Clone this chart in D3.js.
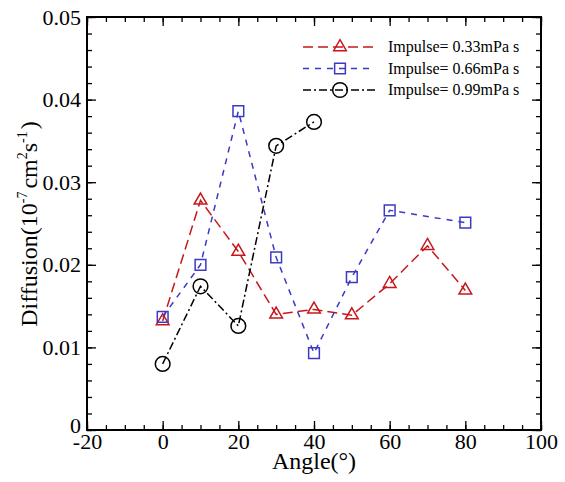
<!DOCTYPE html>
<html>
<head>
<meta charset="utf-8">
<script src="https://cdn.jsdelivr.net/npm/d3@7"></script>
<style>
	body { margin: 0; background: #fff; }
</style>
</head>
<body>
<svg id="chart"></svg>
<script>
// angles (deg) and diffusion values
let anglesA = [0, 10, 20, 30, 40, 50, 60, 70, 80];
let impulse033 = [0.0132, 0.0278, 0.0216, 0.0140, 0.0146, 0.0139, 0.0177, 0.0223, 0.0169];

let anglesB = [0, 10, 20, 30, 40, 50, 60, 80];
let impulse066 = [0.0137, 0.0200, 0.0386, 0.0209, 0.0093, 0.0185, 0.0266, 0.0251];

let anglesC = [0, 10, 20, 30, 40];
let impulse099 = [0.0080, 0.0174, 0.0126, 0.0344, 0.0373];

let seriesNames = ['Impulse= 0.33mPa s', 'Impulse= 0.66mPa s', 'Impulse= 0.99mPa s'];

let xTicks = [-20, 0, 20, 40, 60, 80, 100];
let yTicks = [0, 0.01, 0.02, 0.03, 0.04, 0.05];

const FONT = 'Liberation Serif';

function makeChart() {
	let w = 565;
	let h = 482;
	let margin = {left: 87, top: 17, right: 24, bottom: 52};

	let chart = d3.select('#chart')
		.attr('width', w)
		.attr('height', h);

	let x = d3.scaleLinear().domain([-20, 100]).range([margin.left, w - margin.right]);
	let y = d3.scaleLinear().domain([0, 0.05]).range([h - margin.bottom, margin.top]);

	let xMinor = d3.range(-20, 100.1, 5);
	let yMinor = d3.range(0, 0.0501, 0.002);

	// minor ticks on all four sides
	chart.append('g').attr('transform', `translate(0,${y(0)})`)
		.call(d3.axisBottom(x).tickValues(xMinor).tickSize(-5).tickFormat(''));
	chart.append('g').attr('transform', `translate(0,${y(0.05)})`)
		.call(d3.axisTop(x).tickValues(xMinor).tickSize(-5).tickFormat(''));
	chart.append('g').attr('transform', `translate(${x(-20)},0)`)
		.call(d3.axisLeft(y).tickValues(yMinor).tickSize(-5).tickFormat(''));
	chart.append('g').attr('transform', `translate(${x(100)},0)`)
		.call(d3.axisRight(y).tickValues(yMinor).tickSize(-5).tickFormat(''));

	// major ticks + labels
	chart.append('g').attr('transform', `translate(0,${y(0)})`)
		.call(d3.axisBottom(x).tickValues(xTicks).tickSize(-9).tickPadding(3).tickFormat(d => String(d)));
	chart.append('g').attr('transform', `translate(0,${y(0.05)})`)
		.call(d3.axisTop(x).tickValues(xTicks).tickSize(-9).tickFormat(''));
	let yAxis = chart.append('g').attr('transform', `translate(${x(-20)},0)`)
		.call(d3.axisLeft(y).tickValues(yTicks).tickSize(-9).tickPadding(6)
			.tickFormat(d => d === 0 ? '0' : d.toFixed(2)));
	chart.append('g').attr('transform', `translate(${x(100)},0)`)
		.call(d3.axisRight(y).tickValues(yTicks).tickSize(-9).tickFormat(''));

	chart.selectAll('g').attr('font-family', FONT);
	chart.selectAll('.domain').remove();
	chart.selectAll('.tick line').style('stroke', '#000').style('stroke-width', 1.3);
	chart.selectAll('.tick text')
		.attr('font-size', 22)
		.style('fill', '#000');
	yAxis.selectAll('.tick text').filter(d => d === 0).attr('dy', '0.12em');

	// frame
	chart.append('rect')
		.attr('x', x(-20))
		.attr('y', y(0.05))
		.attr('width', x(100) - x(-20))
		.attr('height', y(0) - y(0.05))
		.style('fill', 'none')
		.style('stroke', '#000')
		.style('stroke-width', 2);

	let series = [
		{xs: anglesA, ys: impulse033, color: '#c8171c', dash: '10,5', sym: d3.symbolTriangle, size: 70},
		{xs: anglesB, ys: impulse066, color: '#3a3ac4', dash: '6,6', sym: d3.symbolSquare, size: 115},
		{xs: anglesC, ys: impulse099, color: '#000000', dash: '8,3,2,3', sym: d3.symbolCircle, size: 170}
	];

	let line = d3.line().x(d => x(d[0])).y(d => y(d[1]));

	series.forEach((s, i) => {
		let pts = s.xs.map((a, j) => [a, s.ys[j]]);

		chart.append('path')
			.datum(pts)
			.attr('d', line)
			.style('fill', 'none')
			.style('stroke', s.color)
			.style('stroke-width', 1.5)
			.style('stroke-dasharray', s.dash);

		chart.selectAll('.m' + i)
			.data(pts)
			.enter()
			.append('path')
			.attr('class', 'm' + i)
			.attr('transform', d => `translate(${x(d[0])},${y(d[1])})`)
			.attr('d', d3.symbol().type(s.sym).size(s.size))
			.style('fill', 'none')
			.style('stroke', s.color)
			.style('stroke-width', 1.5);

		// legend row
		let ly = 47 + i * 21.5;
		chart.append('line')
			.attr('x1', 303).attr('x2', 375)
			.attr('y1', ly).attr('y2', ly)
			.style('stroke', s.color)
			.style('stroke-width', 1.5)
			.style('stroke-dasharray', s.dash);
		chart.append('path')
			.attr('transform', `translate(340,${ly})`)
			.attr('d', d3.symbol().type(s.sym).size(s.size))
			.style('fill', 'none')
			.style('stroke', s.color)
			.style('stroke-width', 1.5);
		chart.append('text')
			.attr('x', 388)
			.attr('y', ly + 5)
			.attr('font-family', FONT)
			.attr('font-size', 16)
			.text(seriesNames[i]);
	});

	// axis titles
	chart.append('text')
		.attr('x', x(40))
		.attr('y', 469)
		.attr('font-family', FONT)
		.attr('font-size', 24)
		.style('text-anchor', 'middle')
		.text('Angle(°)');

	let yt = chart.append('text')
		.attr('transform', 'translate(37,224) rotate(-90)')
		.attr('font-family', FONT)
		.attr('font-size', 24)
		.style('text-anchor', 'middle');
	yt.append('tspan').text('Diffusion(10');
	yt.append('tspan').attr('dy', -10).attr('font-size', 14).text('-7');
	yt.append('tspan').attr('dy', 10).attr('dx', 3).text('cm');
	yt.append('tspan').attr('dy', -10).attr('font-size', 14).text('2');
	yt.append('tspan').attr('dy', 10).text('s');
	yt.append('tspan').attr('dy', -10).attr('font-size', 14).text('-1');
	yt.append('tspan').attr('dy', 10).attr('dx', 2).text(')');
}

window.onload = function () {
	makeChart();
}
</script>
</body>
</html>
